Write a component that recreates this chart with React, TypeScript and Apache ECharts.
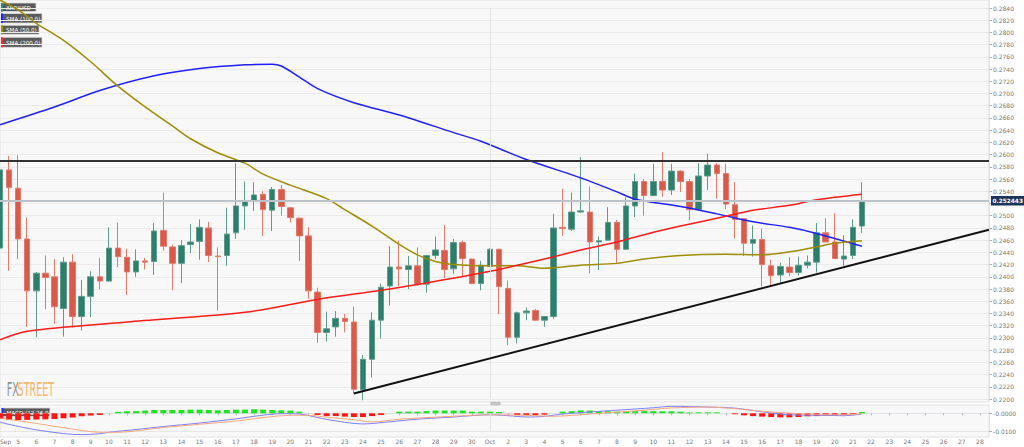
import React, { useEffect, useRef } from 'react';
import * as echarts from 'echarts';

// ---------- axis / time slots (12h candles) ----------
const START = Date.UTC(2019, 8, 4); // Sep 4, 00:00
const HALF_DAY = 12 * 3600 * 1000;
const SLOT_COUNT = 110;
const MONTHS = ['Jan', 'Feb', 'Mar', 'Apr', 'May', 'Jun', 'Jul', 'Aug', 'Sep', 'Oct', 'Nov', 'Dec'];
const slotLabels: string[] = Array.from({ length: SLOT_COUNT }, (_, i) => {
  const d = new Date(START + i * HALF_DAY);
  return `${d.getUTCMonth() + 1}-${d.getUTCDate()} ${d.getUTCHours()}h`;
});

// ---------- XRP/USD 12h candles ----------
const opens = [
  0.2447, 0.2575, 0.2545, 0.2462, 0.2377, 0.2406, 0.2400, 0.2348, 0.2424, 0.2335,
  0.2368, 0.2400, 0.2393, 0.2447, 0.2432, 0.2408, 0.2426, 0.2425, 0.2476, 0.2449,
  0.2422, 0.2453, 0.2458, 0.2480, 0.2434, 0.2435, 0.2472, 0.2516, 0.2525, 0.2535,
  0.2509, 0.2543, 0.2513, 0.2496, 0.2467, 0.2375, 0.2309, 0.2318, 0.2332, 0.2326,
  0.2215, 0.2265, 0.2329, 0.2385, 0.2416, 0.2412, 0.2418, 0.2388, 0.2435, 0.2443,
  0.2413, 0.2456, 0.2429, 0.2389, 0.2417, 0.2445, 0.2381, 0.2301, 0.2341, 0.2345,
  0.2329, 0.2335, 0.2481, 0.2478, 0.2506, 0.2506, 0.2457, 0.2460, 0.2489, 0.2445,
  0.2516, 0.2556, 0.2533, 0.2556, 0.2542, 0.2573, 0.2556, 0.2510, 0.2565, 0.2583,
  0.2569, 0.2518, 0.2495, 0.2455, 0.2461, 0.2418, 0.2403, 0.2416, 0.2407, 0.2419,
  0.2424, 0.2472, 0.2457, 0.2429, 0.2435, 0.2483,
];
const closes = [
  0.2575, 0.2546, 0.2462, 0.2377, 0.2406, 0.2399, 0.2351, 0.2424, 0.2335, 0.2368,
  0.2400, 0.2393, 0.2447, 0.2433, 0.2408, 0.2426, 0.2424, 0.2475, 0.2450, 0.2422,
  0.2451, 0.2457, 0.2481, 0.2435, 0.2433, 0.2470, 0.2516, 0.2524, 0.2534, 0.2510,
  0.2543, 0.2515, 0.2497, 0.2467, 0.2377, 0.2309, 0.2315, 0.2332, 0.2327, 0.2216,
  0.2265, 0.2329, 0.2383, 0.2416, 0.2413, 0.2418, 0.2388, 0.2435, 0.2444, 0.2412,
  0.2456, 0.2430, 0.2389, 0.2419, 0.2445, 0.2384, 0.2301, 0.2341, 0.2344, 0.2329,
  0.2335, 0.2480, 0.2479, 0.2506, 0.2508, 0.2457, 0.2459, 0.2489, 0.2445, 0.2516,
  0.2556, 0.2533, 0.2556, 0.2542, 0.2573, 0.2556, 0.2510, 0.2565, 0.2583, 0.2569,
  0.2519, 0.2494, 0.2455, 0.2461, 0.2420, 0.2402, 0.2417, 0.2407, 0.2419, 0.2424,
  0.2472, 0.2457, 0.2430, 0.2434, 0.2481, 0.252443,
];
const lows = [
  0.2408, 0.2410, 0.2429, 0.2318, 0.2301, 0.2347, 0.2323, 0.2302, 0.2317, 0.2312,
  0.2334, 0.2380, 0.2392, 0.2416, 0.2370, 0.2400, 0.2412, 0.2403, 0.2443, 0.2378,
  0.2390, 0.2439, 0.2428, 0.2424, 0.2345, 0.2418, 0.2462, 0.2477, 0.2508, 0.2467,
  0.2475, 0.2500, 0.2489, 0.2426, 0.2364, 0.2292, 0.2294, 0.2302, 0.2309, 0.2209,
  0.2198, 0.2235, 0.2299, 0.2353, 0.2385, 0.2380, 0.2385, 0.2374, 0.2429, 0.2398,
  0.2405, 0.2400, 0.2388, 0.2378, 0.2416, 0.2339, 0.2288, 0.2291, 0.2329, 0.2328,
  0.2318, 0.2331, 0.2467, 0.2475, 0.2505, 0.2406, 0.2411, 0.2459, 0.2422, 0.2444,
  0.2498, 0.2500, 0.2532, 0.2531, 0.2534, 0.2539, 0.2493, 0.2508, 0.2542, 0.2528,
  0.2511, 0.2463, 0.2434, 0.2433, 0.2384, 0.2385, 0.2389, 0.2401, 0.2402, 0.2414,
  0.2407, 0.2457, 0.2429, 0.2418, 0.2429, 0.2472,
];
const highs = [
  0.2599, 0.2598, 0.2599, 0.2497, 0.2408, 0.2435, 0.2429, 0.2432, 0.2437, 0.2395,
  0.2409, 0.2431, 0.2481, 0.2489, 0.2446, 0.2445, 0.2431, 0.2488, 0.2538, 0.2453,
  0.2460, 0.2486, 0.2494, 0.2490, 0.2448, 0.2513, 0.2586, 0.2556, 0.2555, 0.2540,
  0.2547, 0.2550, 0.2514, 0.2497, 0.2481, 0.2382, 0.2343, 0.2344, 0.2339, 0.2351,
  0.2272, 0.2342, 0.2389, 0.2450, 0.2459, 0.2434, 0.2448, 0.2436, 0.2466, 0.2485,
  0.2462, 0.2459, 0.2430, 0.2426, 0.2447, 0.2446, 0.2394, 0.2343, 0.2350, 0.2347,
  0.2336, 0.2503, 0.2544, 0.2538, 0.2596, 0.2548, 0.2466, 0.2514, 0.2493, 0.2530,
  0.2569, 0.2560, 0.2585, 0.2604, 0.2585, 0.2574, 0.2560, 0.2586, 0.2601, 0.2586,
  0.2585, 0.2555, 0.2496, 0.2484, 0.2479, 0.2428, 0.2423, 0.2432, 0.2433, 0.2435,
  0.2488, 0.2496, 0.2504, 0.2468, 0.2494, 0.2555,
];

// ---------- moving averages, [slot, value] read at sampled slots ----------
const sma100Points = [
  [0, 0.2649], [6, 0.2678], [11, 0.2705], [17, 0.2729], [22, 0.2741], [27, 0.2747],
  [30, 0.2748], [31, 0.2745], [33, 0.2727], [35, 0.2708], [39, 0.2685], [44, 0.2665],
  [50, 0.2636], [53, 0.2622], [58, 0.2592], [64, 0.2562], [68, 0.2539], [70, 0.2527],
  [75, 0.2515], [79, 0.2503], [83, 0.2490], [87, 0.2481], [90, 0.2471], [95, 0.2450],
];
const sma50Points = [
  [0, 0.2853], [2, 0.2837], [4, 0.2815], [7, 0.2787], [10, 0.2752], [13, 0.2712],
  [16, 0.2678], [19, 0.2647], [21, 0.2626], [24, 0.2603], [27, 0.2586], [29, 0.2568],
  [32, 0.2550], [36, 0.2528], [38, 0.2510], [41, 0.2483], [44, 0.2453], [46, 0.2436],
  [48, 0.2425], [50, 0.2420], [54, 0.2418], [57, 0.2418], [60, 0.2414], [64, 0.2419],
  [68, 0.2422], [71, 0.2429], [75, 0.2435], [80, 0.2437], [84, 0.2436], [88, 0.2443],
  [90, 0.2449], [92, 0.2455], [95, 0.2459],
];
const sma200Points = [
  [0, 0.2297], [3, 0.2311], [14, 0.2326], [27, 0.2342], [35, 0.2363], [42, 0.2378],
  [47, 0.2390], [54, 0.2409], [60, 0.2429], [64, 0.2444], [68, 0.2457], [71, 0.2469],
  [75, 0.2483], [80, 0.2499], [83, 0.2509], [87, 0.2517], [90, 0.2526], [95, 0.2535],
];
const supportTrendPoints = [[39, 0.2209], [109, 0.2477]];
const RESISTANCE = 0.2590;
const LAST_PRICE = 0.252443;
const HIDDEN_PRICE_TICK = 0.252; // covered by the last-price tag in the reference
const OCT_SLOT = 54;

// ---------- MACD (12,26,9) ----------
const histValues = [
  -0.0031, -0.0036, -0.0036, -0.0036, -0.0034, -0.0033, -0.0031, -0.0027, -0.0023, -0.0016,
  -0.0012, -0.0009, 0.0002, 0.0008, 0.0011, 0.0012, 0.0015, 0.0018, 0.0018, 0.0018,
  0.0018, 0.0020, 0.0020, 0.0018, 0.0016, 0.0018, 0.0020, 0.0020, 0.0022, 0.0020,
  0.0018, 0.0016, 0.0015, 0.0009, 0.0002, -0.0009, -0.0015, -0.0015, -0.0018, -0.0020,
  -0.0020, -0.0015, -0.0009, 0.0002, 0.0009, 0.0009, 0.0009, 0.0012, 0.0015, 0.0015,
  0.0015, 0.0015, 0.0009, 0.0009, 0.0009, 0.0007, -0.0002, -0.0009, -0.0009, -0.0009,
  -0.0007, 0.0002, 0.0009, 0.0012, 0.0016, 0.0015, 0.0012, 0.0011, 0.0009, 0.0011,
  0.0012, 0.0012, 0.0012, 0.0011, 0.0011, 0.0009, 0.0005, 0.0005, 0.0005, 0.0005,
  0, -0.0005, -0.0011, -0.0015, -0.0018, -0.0020, -0.0022, -0.0022, -0.0020, -0.0016,
  -0.0015, -0.0012, -0.0011, -0.0009, -0.0005, 0.0007,
];
const macdPoints = [
  [0, -0.0049], [2, -0.0071], [4, -0.0090], [7, -0.0110], [9, -0.0116], [11, -0.0111],
  [12, -0.0103], [15, -0.0088], [18, -0.0072], [22, -0.0053], [26, -0.0030], [29, -0.0010],
  [31, -0.0002], [33, -0.0004], [34, -0.0012], [36, -0.0033], [40, -0.0058], [43, -0.0046],
  [46, -0.0032], [50, -0.0020], [54, -0.0008], [56, -0.0013], [58, -0.0020], [60, -0.0017],
  [62, -0.0004], [65, 0.0007], [68, 0.0017], [72, 0.0030], [74, 0.0038], [78, 0.0034],
  [81, 0.0028], [83, 0.0015], [85, 0.0002], [87, -0.0008], [91, -0.0011], [93, -0.0013],
  [95, -0.0004],
];
const signalPoints = [
  [0, -0.0026], [4, -0.0055], [7, -0.0078], [11, -0.0103], [13, -0.0103], [18, -0.0077],
  [26, -0.0042], [32, -0.0011], [34, -0.0011], [36, -0.0021], [39, -0.0035], [41, -0.0047],
  [44, -0.0032], [50, -0.0016], [54, -0.0008], [58, -0.0011], [61, -0.0016], [65, -0.0004],
  [71, 0.0017], [74, 0.0029], [78, 0.0034], [81, 0.0025], [85, 0.0007], [89, -0.0004],
  [93, -0.0008], [95, -0.0002],
];

const FONT = 'DejaVu Sans';
const UP = '#2b7f6c';
const DOWN = '#d95a48';

function fmtX(_v: string, index: number) {
  if (index % 2) return '';
  const d = new Date(START + index * HALF_DAY);
  const day = d.getUTCDate();
  if (index === 0 || day === 1) return MONTHS[d.getUTCMonth()];
  return String(day);
}

function legendBox(label: string, stripe: string, x: number, y: number, w: number, h: number) {
  return {
    type: 'group',
    z: 1,
    children: [
      { type: 'rect', shape: { x, y, width: w, height: h }, style: { fill: '#5a5a5a', stroke: '#dcdcdc', lineWidth: 0.8 } },
      { type: 'rect', shape: { x, y, width: 2, height: h }, style: { fill: stripe } },
      { type: 'text', x: x + 5, y: y + h / 2 + 0.3, style: { text: label, fill: '#ffffff', fontSize: 5.6, fontFamily: FONT, verticalAlign: 'middle' } },
    ],
  };
}

export default function App() {
  const ref = useRef<HTMLDivElement>(null);
  useEffect(() => {
    document.body.style.margin = '0';
    if (!ref.current) return;
    const chart = echarts.init(ref.current, null, { renderer: 'svg' });

    const candleData = opens.map((o, i) => [o, closes[i], lows[i], highs[i]]);
    const histData = histValues.map((v) => ({
      value: v,
      itemStyle: {
        color: v >= 0 ? (v < 0.0004 ? '#b9f2b9' : '#1ee61e') : (v > -0.0004 ? '#ffb5b5' : '#ff1414'),
      },
    }));

    const option: any = {
      animation: false,
      backgroundColor: '#ffffff',
      textStyle: { fontFamily: FONT },
      grid: [
        { left: 0, right: 35, top: 8, height: 391, outerBoundsMode: 'none' },
        { left: 0, right: 35, top: 413.3, height: 18.4, outerBoundsMode: 'none' },
      ],
      xAxis: [
        { type: 'category', gridIndex: 0, data: slotLabels, boundaryGap: false, show: false },
        {
          type: 'category', gridIndex: 1, data: slotLabels, boundaryGap: false, offset: 5,
          axisLine: { show: true, lineStyle: { color: '#dfe2e8' } },
          axisTick: { show: true, interval: 1, length: 2, lineStyle: { color: '#b0b0b0' } },
          axisLabel: { interval: 1, formatter: fmtX, fontSize: 6, color: '#777', margin: 2, alignMinLabel: 'left' },
          splitLine: { show: false },
        },
      ],
      yAxis: [
        {
          type: 'value', gridIndex: 0, position: 'right', min: 0.22, max: 0.284, interval: 0.002,
          axisLine: { show: true, lineStyle: { color: '#dfe2e8' } },
          axisTick: { show: true, length: 3, lineStyle: { color: '#b0b0b0' } },
          axisLabel: { fontSize: 6, color: '#777', margin: 4,
            formatter: (v: number) => (Math.abs(v - HIDDEN_PRICE_TICK) < 1e-7 ? '' : v.toFixed(4)) },
          splitLine: { show: true, lineStyle: { color: '#ebebeb', width: 1 } },
        },
        {
          type: 'value', gridIndex: 1, position: 'right', min: -0.01, max: 0, interval: 0.01,
          axisLine: { show: true, lineStyle: { color: '#dfe2e8' } },
          axisTick: { show: true, length: 3, lineStyle: { color: '#b0b0b0' } },
          axisLabel: { fontSize: 6, color: '#777', margin: 4, formatter: (v: number) => (v === 0 ? '-0.0000' : v.toFixed(4)) },
          splitLine: { show: true, lineStyle: { color: '#e6e6e6', width: 1 } },
        },
      ],
      graphic: [
        { type: 'rect', z: -10, silent: true, shape: { x: 0, y: 0, width: 989, height: 402 }, style: { fill: '#f8f8f8', stroke: '#e2e2e2', lineWidth: 1 } },
        { type: 'rect', z: -10, silent: true, shape: { x: 0, y: 405, width: 989, height: 32 }, style: { fill: '#f8f8f8', stroke: '#e2e2e2', lineWidth: 1 } },
        { type: 'line', z: 1, silent: true, shape: { x1: 989, y1: 0, x2: 989, y2: 402 }, style: { stroke: '#dfe2e8', lineWidth: 1 } },
        { type: 'rect', z: 1, silent: true, shape: { x: 491, y: 402.3, width: 9, height: 2.6 }, style: { fill: '#d0d0d0', stroke: '#9a9a9a', lineWidth: 0.6 } },
        legendBox('XRP/USD', '#2a8c74', 1, 3, 35, 8.5),
        legendBox('SMA (100,0)', '#2323ff', 1, 13.5, 41, 9.5),
        legendBox('SMA (50,0)', '#a89400', 1, 25.3, 38, 9),
        legendBox('SMA (200,0)', '#ff2a2a', 1, 37.3, 41, 10),
        legendBox('MACD (12,26,9)', '#2a2aff', 1.5, 408, 48.5, 8.5),
        { type: 'text', z: 1, x: 6.7, y: 388.5, scaleX: 0.48, style: { text: 'FX', fill: '#8e8e8e', fontSize: 20, fontFamily: FONT, verticalAlign: 'middle' } },
        { type: 'text', z: 1, x: 17.6, y: 388.5, scaleX: 0.48, style: { text: 'STREET', fill: '#f3b46c', fontSize: 20, fontFamily: FONT, verticalAlign: 'middle' } },
      ],
      series: [
        {
          type: 'candlestick', name: 'XRP/USD', xAxisIndex: 0, yAxisIndex: 0, data: candleData, barWidth: 6, z: 3,
          itemStyle: { color: UP, color0: DOWN, borderColor: '#5f9c8d', borderColor0: '#e07a6a', borderWidth: 1 },
          markLine: {
            silent: true, symbol: ['none', 'none'], animation: false, precision: 6,
            data: [
              { xAxis: OCT_SLOT, lineStyle: { color: '#e2e2e2', width: 1, type: 'solid' }, label: { show: false } },
              { yAxis: LAST_PRICE, lineStyle: { color: '#bcc1ca', width: 2, type: 'solid' },
                label: { show: true, position: 'end', distance: 2, formatter: String(LAST_PRICE), backgroundColor: '#17365a',
                  color: '#ffffff', fontSize: 5.8, fontWeight: 'bold', padding: [2, 1.5, 1.5, 1.5], fontFamily: FONT } },
              { yAxis: RESISTANCE, lineStyle: { color: '#333333', width: 2, type: 'solid' }, label: { show: false } },
            ],
          },
        },
        { type: 'line', name: 'SMA (100,0)', xAxisIndex: 0, yAxisIndex: 0, data: sma100Points, smooth: 0.3, showSymbol: false, clip: false, z: 4,
          lineStyle: { color: '#1f1fff', width: 1.5 } },
        { type: 'line', name: 'SMA (50,0)', xAxisIndex: 0, yAxisIndex: 0, data: sma50Points, smooth: 0.3, showSymbol: false, clip: false, z: 4,
          lineStyle: { color: '#a08c00', width: 1.5 } },
        { type: 'line', name: 'SMA (200,0)', xAxisIndex: 0, yAxisIndex: 0, data: sma200Points, smooth: 0.3, showSymbol: false, clip: false, z: 4,
          lineStyle: { color: '#ff1a1a', width: 1.5 } },
        { type: 'line', name: 'Support', xAxisIndex: 0, yAxisIndex: 0, data: supportTrendPoints, showSymbol: false, clip: false, z: 5,
          lineStyle: { color: '#111111', width: 2 } },
        {
          type: 'bar', name: 'Histogram', xAxisIndex: 1, yAxisIndex: 1, data: histData, barWidth: 6, clip: false, z: 3,
          markLine: {
            silent: true, symbol: ['none', 'none'], animation: false,
            data: [{ xAxis: OCT_SLOT, lineStyle: { color: '#e2e2e2', width: 1, type: 'solid' }, label: { show: false } }],
          },
        },
        { type: 'line', name: 'MACD', xAxisIndex: 1, yAxisIndex: 1, data: macdPoints, smooth: 0.3, showSymbol: false, clip: false, z: 4,
          lineStyle: { color: '#7f7fff', width: 1 } },
        { type: 'line', name: 'Signal', xAxisIndex: 1, yAxisIndex: 1, data: signalPoints, smooth: 0.3, showSymbol: false, clip: false, z: 4,
          lineStyle: { color: '#f6a77c', width: 1 } },
      ],
    };
    chart.setOption(option);
    return () => chart.dispose();
  }, []);
  return <div ref={ref} style={{ width: 1024, height: 447 }} />;
}
